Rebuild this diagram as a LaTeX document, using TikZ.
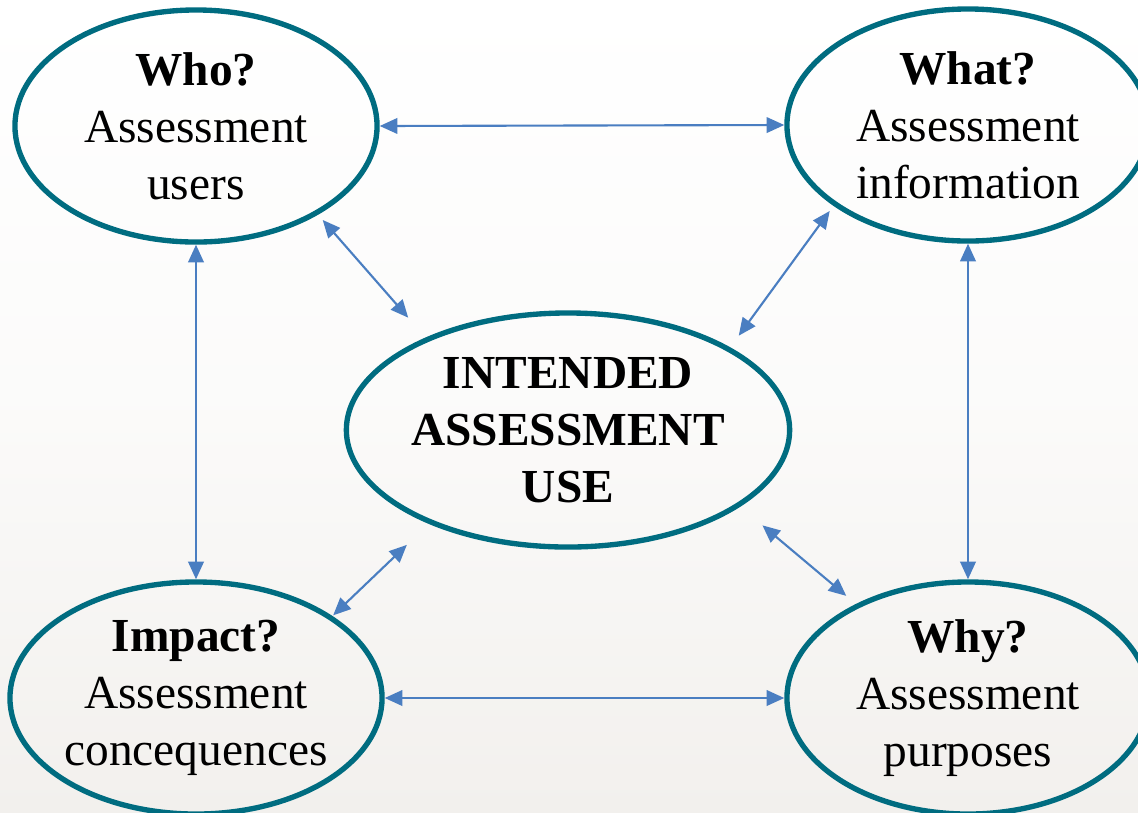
\documentclass[tikz,border=0pt]{standalone}
\usepackage{fontspec}
\setmainfont{Liberation Serif}
\usetikzlibrary{shapes.geometric,arrows.meta}
\definecolor{ringc}{RGB}{0,108,128}
\definecolor{arrc}{RGB}{74,126,193}
\definecolor{bgbot}{RGB}{242,240,237}
\begin{document}
\begin{tikzpicture}[x=0.025cm,y=-0.025cm,
  bubble/.style={ellipse, draw=ringc, line width=3.8pt, inner sep=0pt, align=center,
    font=\fontsize{33.7}{40.5}\selectfont, minimum width=9.05cm, minimum height=5.8cm},
  link/.style={draw=arrc, line width=1.5pt,
    {Triangle[length=12.5pt,width=11pt]}-{Triangle[length=12.5pt,width=11pt]}}]
\useasboundingbox (0,0) rectangle (1138,812);
\shade[top color=white, bottom color=bgbot, middle color=white!70!bgbot] (0,0) rectangle (1138,812);
\node[bubble] (who) at (196,126) {\textbf{Who?}\\Assessment\\users};
\node[bubble] (what) at (968,125) {\textbf{What?}\\Assessment\\information};
\node[bubble] (impact) at (196,698) {\textbf{Impact?}\\Assessment\\concequences};
\node[bubble] (why) at (968,698) {\textbf{Why?}\\Assessment\\purposes};
\node[bubble, minimum width=10.9cm, minimum height=5.85cm, font=\fontsize{33.7}{40.5}\selectfont\bfseries] (center) at (568,430) {INTENDED\\ASSESSMENT\\USE};
\draw[link] (who.east) -- (what.west);
\draw[link] (impact.east) -- (why.west);
\draw[link] (who.south) -- (impact.north);
\draw[link] (what.south) -- (why.north);
\draw[link, shorten <=0.175cm, shorten >=0.66cm] (who.-36) -- (center.147);
\draw[link, shorten <=0.16cm, shorten >=0.36cm] (what.211) -- (center.27.5);
\draw[link, shorten <=0.76cm, shorten >=0.025cm] (center.214.6) -- (impact.31.5);
\draw[link, shorten <=0.725cm, shorten >=0.315cm] (center.-24.3) -- (why.140);
\end{tikzpicture}
\end{document}
